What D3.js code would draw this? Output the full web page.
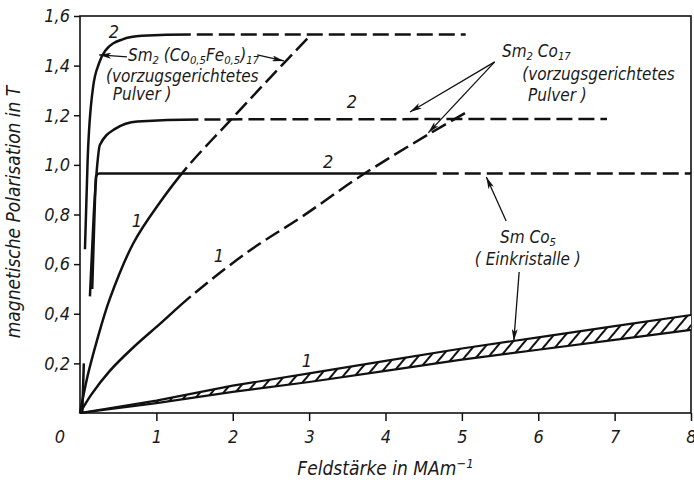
<!DOCTYPE html>
<html>
<head>
<meta charset="utf-8">
<script src="https://cdn.jsdelivr.net/npm/d3@7"></script>
<style>
  body { margin: 0; background: #fff; }
  svg text { font-family: "Liberation Sans Narrow", "DejaVu Sans Condensed", "DejaVu Sans", sans-serif; font-style: italic; fill: #1a1a1a; }
</style>
</head>
<body>
<div id="chart"></div>
<script>
// axis ticks
var xTicks = [1, 2, 3, 4, 5, 6, 7, 8];
var yTicks = [0.2, 0.4, 0.6, 0.8, 1.0, 1.2, 1.4, 1.6];

// Sm2(Co0,5Fe0,5)17, curve 2 (easy axis) - solid part, then extrapolated (dashed)
var feEasySolid = [[0.065, 0.66], [0.1, 1.02], [0.17, 1.31], [0.25, 1.41], [0.33, 1.46], [0.55, 1.505], [0.81, 1.52], [1.45, 1.525]];
var feEasyDash = [[1.45, 1.525], [5.05, 1.525]];
// Sm2(Co0,5Fe0,5)17, curve 1 (hard axis)
var feHardSolid = [[0, 0], [0.1, 0.15], [0.22, 0.29], [0.39, 0.46], [0.7, 0.685], [1.05, 0.85], [1.4, 0.99]];
var feHardDash = [[1.4, 0.99], [2.0, 1.19], [2.5, 1.355], [3.01, 1.52]];

// Sm2Co17, curve 2 / curve 1
var coEasySolid = [[0.13, 0.47], [0.18, 0.8], [0.22, 0.98], [0.26, 1.08], [0.46, 1.145], [0.75, 1.175], [1.55, 1.183]];
var coEasyDash = [[1.55, 1.183], [6.9, 1.185]];
var coHardSolid = [[0, 0], [0.15, 0.075], [0.39, 0.17], [0.7, 0.265], [1.05, 0.36], [1.45, 0.47]];
var coHardDash = [[1.45, 0.47], [2.2, 0.65], [2.9, 0.79], [3.7, 0.96], [4.6, 1.13], [5.05, 1.21]];

// SmCo5 single crystals, curve 2 / curve 1 (band)
var smEasySolid = [[0.16, 0.5], [0.19, 0.8], [0.21, 0.955], [0.25, 0.965], [4.67, 0.965]];
var smEasyDash = [[4.67, 0.965], [8, 0.965]];
var bandX = [0, 1, 2, 3, 4, 5, 6, 7, 8];
var bandLow = [0, 0.04, 0.085, 0.125, 0.17, 0.215, 0.255, 0.295, 0.335];
var bandHigh = [0, 0.05, 0.11, 0.16, 0.21, 0.26, 0.305, 0.35, 0.395];
// steep start at the origin
var originRise = [[0.03, 0], [0.05, 0.2]];

var svgWidth = 694;
var svgHeight = 483;
var margin = { top: 16, right: 3, bottom: 70, left: 80 };
var width = svgWidth - margin.left - margin.right;
var height = svgHeight - margin.top - margin.bottom;

var svg = d3.select("#chart").append("svg")
  .attr("width", svgWidth)
  .attr("height", svgHeight);

var defs = svg.append("defs");
var hatch = defs.append("pattern")
  .attr("id", "hatch")
  .attr("patternUnits", "userSpaceOnUse")
  .attr("width", 9)
  .attr("height", 9)
  .attr("patternTransform", "rotate(40)");
hatch.append("rect").attr("width", 9).attr("height", 9).attr("fill", "#fff");
hatch.append("line").attr("x1", 1).attr("y1", 0).attr("x2", 1).attr("y2", 9)
  .attr("stroke", "#111").attr("stroke-width", 2);

defs.append("marker")
  .attr("id", "arrow")
  .attr("viewBox", "0 0 12 6")
  .attr("refX", 12).attr("refY", 3)
  .attr("markerWidth", 12).attr("markerHeight", 6)
  .attr("markerUnits", "userSpaceOnUse")
  .attr("orient", "auto")
  .append("path").attr("d", "M0,0 L12,3 L0,6 L3,3 Z").attr("fill", "#111");

var chartGroup = svg.append("g")
  .attr("transform", `translate(${margin.left}, ${margin.top})`);

var x = d3.scaleLinear().domain([0, 8]).range([0, width]);
var y = d3.scaleLinear().domain([0, 1.6]).range([height, 0]);

var comma = d3.formatLocale({ decimal: ",", thousands: ".", grouping: [3], currency: ["", ""] });

// box
chartGroup.append("rect")
  .attr("width", width).attr("height", height)
  .attr("fill", "none").attr("stroke", "#111").attr("stroke-width", 1.6);

var xAxis = chartGroup.append("g")
  .attr("transform", `translate(0, ${height})`)
  .call(d3.axisBottom(x).tickValues(xTicks).tickSize(8).tickPadding(9).tickFormat(d3.format("d")));
var yAxis = chartGroup.append("g")
  .call(d3.axisLeft(y).tickValues(yTicks).tickSize(6).tickPadding(4).tickFormat(comma.format(".1f")));
[xAxis, yAxis].forEach(function(a) {
  a.select(".domain").remove();
  a.selectAll("line").attr("stroke", "#111").attr("stroke-width", 1.5);
  a.selectAll("text").attr("font-size", 18).attr("fill", "#1a1a1a").style("font-family", null);
});
xAxis.selectAll("text").attr("dy", "0.71em");

chartGroup.append("text")
  .attr("x", x(0) - 20).attr("y", height + 30)
  .attr("text-anchor", "middle").attr("font-size", 18).text("0");

// axis titles
var xt = chartGroup.append("text")
  .attr("x", width / 2).attr("y", height + 62)
  .attr("text-anchor", "middle").attr("font-size", 19);
xt.append("tspan").text("Feldstärke in MAm");
xt.append("tspan").attr("dy", -7).attr("font-size", 13).text("−1");

chartGroup.append("text")
  .attr("transform", `translate(${-60}, ${y(0.81)}) rotate(-90)`)
  .attr("text-anchor", "middle").attr("font-size", 19)
  .text("magnetische Polarisation in T");

// curves: one smooth path each, solid up to the split, dashed after it
var easyLine = d3.line().x(d => x(d[0])).y(d => y(d[1])).curve(d3.curveMonotoneX);
var hardLine = d3.line().x(d => x(d[0])).y(d => y(d[1])).curve(d3.curveCatmullRom.alpha(0.5));
var straight = d3.line().x(d => x(d[0])).y(d => y(d[1]));

function drawCurve(solid, dash, gen) {
  var pts = dash ? solid.concat(dash.slice(1)) : solid;
  var path = chartGroup.append("path")
    .datum(pts)
    .attr("d", gen)
    .attr("fill", "none")
    .attr("stroke", "#111")
    .attr("stroke-width", 2.5)
    .attr("stroke-linecap", "butt");
  if (dash) {
    var node = path.node();
    var total = node.getTotalLength();
    var splitX = x(dash[0][0]);
    var lo = 0, hi = total;
    for (var i = 0; i < 40; i++) {
      var mid = (lo + hi) / 2;
      if (node.getPointAtLength(mid).x < splitX) lo = mid; else hi = mid;
    }
    var arr = [lo.toFixed(1), 6];
    for (var s = lo + 6; s < total; s += 22) arr.push(16, 6);
    path.attr("stroke-dasharray", arr.join(","));
  }
}

// SmCo5 band
var band = bandX.map((v, i) => [v, bandLow[i], bandHigh[i]]);
chartGroup.append("path")
  .datum(band)
  .attr("d", d3.area().x(d => x(d[0])).y0(d => y(d[1])).y1(d => y(d[2])))
  .attr("fill", "url(#hatch)");
[bandLow, bandHigh].forEach(function(b) {
  chartGroup.append("path")
    .datum(bandX.map((v, i) => [v, b[i]]))
    .attr("d", straight)
    .attr("fill", "none").attr("stroke", "#111").attr("stroke-width", 2.2);
});

chartGroup.append("path").datum(originRise).attr("d", straight)
  .attr("stroke", "#111").attr("stroke-width", 2.5);
drawCurve(feEasySolid, feEasyDash, easyLine);
drawCurve(feHardSolid, feHardDash, hardLine);
drawCurve(coEasySolid, coEasyDash, easyLine);
drawCurve(coHardSolid, coHardDash, hardLine);
drawCurve(smEasySolid, smEasyDash, easyLine);

// annotations
var arrows = [
  [0.615, 1.435, 0.25, 1.443],
  [2.32, 1.443, 2.67, 1.419],
  [5.43, 1.415, 4.32, 1.213],
  [5.43, 1.415, 4.56, 1.129],
  [5.58, 0.774, 5.32, 0.951],
  [5.75, 0.568, 5.68, 0.29]
];
chartGroup.selectAll(".arrow")
  .data(arrows).enter().append("line")
  .attr("x1", d => x(d[0])).attr("y1", d => y(d[1]))
  .attr("x2", d => x(d[2])).attr("y2", d => y(d[3]))
  .attr("stroke", "#111").attr("stroke-width", 1.3)
  .attr("marker-end", "url(#arrow)");

var curveNums = [["2", 0.445, 1.511], ["2", 3.56, 1.229], ["2", 3.25, 0.987],
                 ["1", 0.746, 0.75], ["1", 1.82, 0.609], ["1", 2.97, 0.185]];
chartGroup.selectAll(".num")
  .data(curveNums).enter().append("text")
  .attr("x", d => x(d[1])).attr("y", d => y(d[2]))
  .attr("text-anchor", "middle").attr("font-size", 18)
  .text(d => d[0]);

// label with subscript parts: [text, isSub]
function label(px, py, parts, size) {
  var t = chartGroup.append("text").attr("x", x(px)).attr("y", y(py)).attr("font-size", size);
  var sub = false;
  parts.forEach(function(p) {
    var s = t.append("tspan").text(p[0]);
    if (p[1] && !sub) { s.attr("dy", 3).attr("font-size", size * 0.66); sub = true; }
    else if (p[1]) { s.attr("font-size", size * 0.66); }
    else if (sub) { s.attr("dy", -3); sub = false; }
  });
  return t;
}

label(0.628, 1.42, [["Sm", 0], ["2", 1], [" (Co", 0], ["0,5", 1], ["Fe", 0], ["0,5", 1], [")", 0], ["17", 1]], 17);
label(0.34, 1.334, [["(vorzugsgerichtetes", 0]], 17);
label(0.43, 1.261, [["Pulver )", 0]], 17);

label(5.525, 1.435, [["Sm", 0], ["2", 1], [" Co", 0], ["17", 1]], 17);
label(5.79, 1.342, [["(vorzugsgerichtetes", 0]], 17);
label(5.866, 1.257, [["Pulver )", 0]], 17);

label(5.50, 0.685, [["Sm Co", 0], ["5", 1]], 17);
label(5.17, 0.596, [["( Einkristalle )", 0]], 17);
</script>
</body>
</html>
